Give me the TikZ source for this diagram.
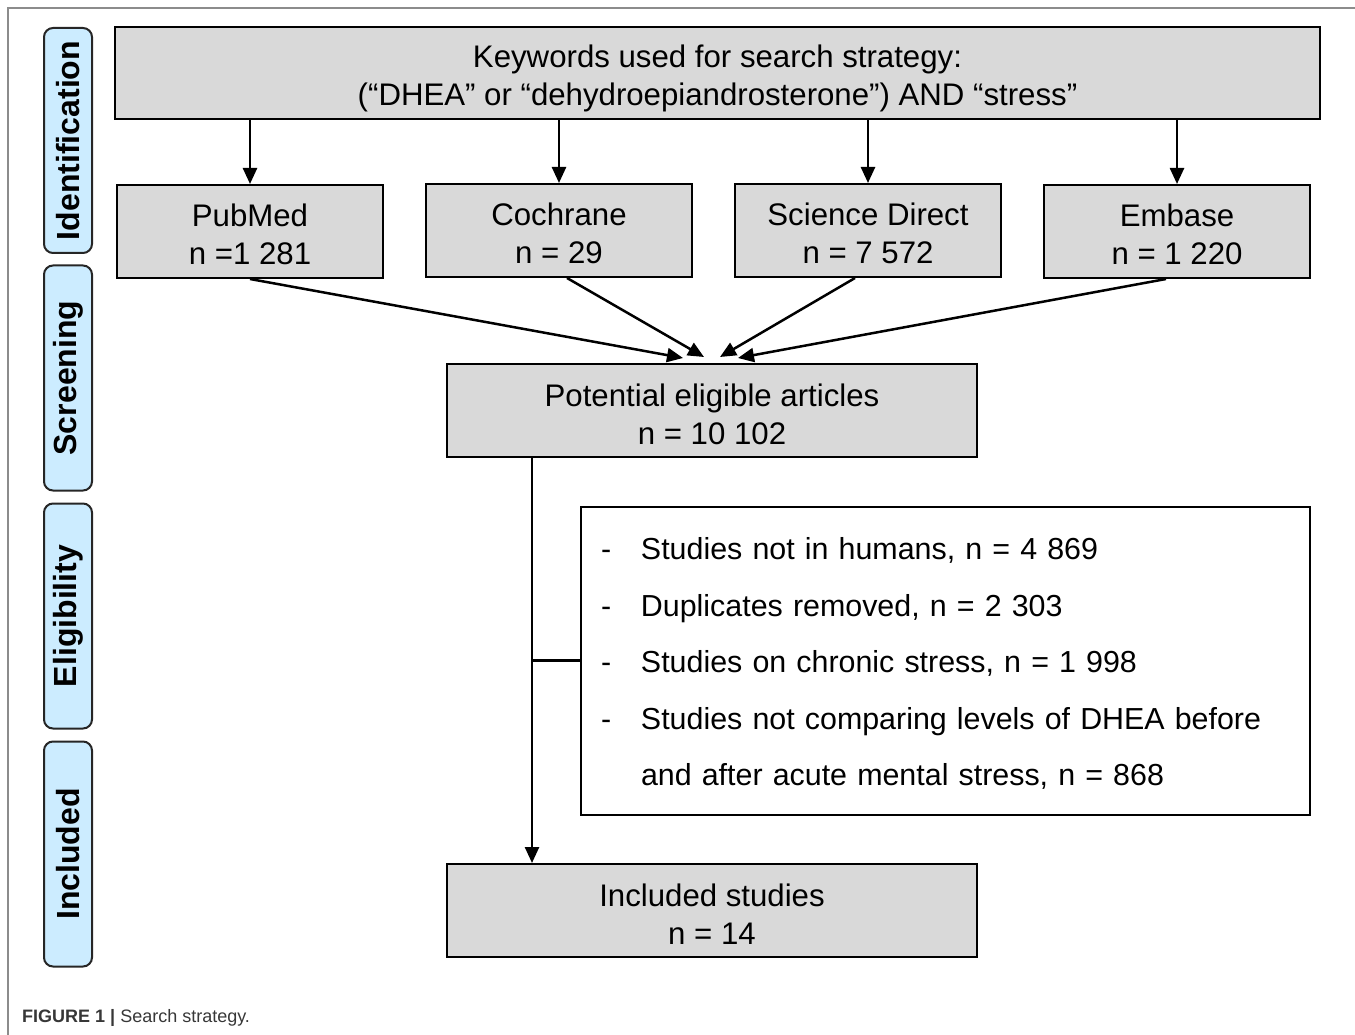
\documentclass[tikz,border=0pt]{standalone}
\usepackage{fontspec}
\setmainfont{Liberation Sans}
\usetikzlibrary{arrows.meta,calc}
\definecolor{boxgray}{RGB}{217,217,217}
\definecolor{sideblue}{RGB}{204,236,255}
\definecolor{framegray}{RGB}{140,140,140}
\definecolor{captiongray}{RGB}{55,55,55}
\begin{document}
\begin{tikzpicture}[x=1pt,y=-1pt,
  graybox/.style={draw=black,line width=2pt,fill=boxgray,inner sep=0pt},
  boxtext/.style={align=center,inner sep=0pt,font=\fontsize{31.2}{38}\selectfont},
  sidebox/.style={draw=black!85,line width=2pt,fill=sideblue,rounded corners=9pt,rotate=90,
    minimum width=225pt,minimum height=48pt,inner sep=0pt,font=\fontsize{32}{36}\selectfont\bfseries},
  conn/.style={line width=2.5pt,black},
  arr/.style={conn,-{Triangle[length=16pt,width=14pt]}}]
\useasboundingbox (0,0) rectangle (1355,1035);
% frame
\draw[framegray,line width=1.5pt] (8,1035) -- (8,8) -- (1355,8);
% side labels
\node[sidebox] (sid) at (68,140.5) {Identification};
\node[sidebox] (sscr) at (68,378) {Screening};
\node[sidebox] (selig) at (68,616) {Eligibility};
\node[sidebox] (sinc) at (68,854) {Included};
% keywords
\node[graybox,minimum width=1205pt,minimum height=92pt,
  label={[boxtext,yshift=-5pt]center:{Keywords used for search strategy:\\(“DHEA” or “dehydroepiandrosterone”) AND “stress”}}]
  (kw) at (717.5,73) {};
% sources
\node[graybox,minimum width=266pt,minimum height=93pt,
  label={[boxtext,yshift=-3pt]center:{PubMed\\n =1 281}}] (pub) at (250,231.5) {};
\node[graybox,minimum width=266pt,minimum height=93pt,
  label={[boxtext,yshift=-3pt]center:{Cochrane\\n = 29}}] (coch) at (559,230.5) {};
\node[graybox,minimum width=266pt,minimum height=93pt,
  label={[boxtext,yshift=-3pt]center:{Science Direct\\n = 7 572}}] (sci) at (868,230.5) {};
\node[graybox,minimum width=266pt,minimum height=93pt,
  label={[boxtext,yshift=-3pt]center:{Embase\\n = 1 220}}] (emb) at (1177,231.5) {};
% arrows from keywords
\draw[arr] (kw.south -| pub.north) -- (pub.north);
\draw[arr] (kw.south -| coch.north) -- (coch.north);
\draw[arr] (kw.south -| sci.north) -- (sci.north);
\draw[arr] (kw.south -| emb.north) -- (emb.north);
% potential
\node[graybox,minimum width=530pt,minimum height=93pt,
  label={[boxtext,yshift=-4pt]center:{Potential eligible articles\\n = 10 102}}] (pot) at (712,410.5) {};
\coordinate (t1) at ($(pot.north)+(-29,-5)$);
\coordinate (t2) at ($(pot.north)+(-8,-6)$);
\coordinate (t3) at ($(pot.north)+(8,-6)$);
\coordinate (t4) at ($(pot.north)+(26,-5)$);
\draw[arr] (pub.south) -- (t1);
\draw[arr] ($(coch.south)+(8,0)$) -- (t2);
\draw[arr] ($(sci.south)+(-13,0)$) -- (t3);
\draw[arr] ($(emb.south)+(-11,0)$) -- (t4);
% exclusion box
\node[draw=black,line width=2pt,fill=white,minimum width=729pt,minimum height=308pt,inner sep=0pt,
  label={[inner sep=0pt,text width=689pt,align=left,font=\fontsize{30.4}{56.5}\selectfont,yshift=-3pt]center:
  {\makebox[40pt][l]{-}Studies not in humans, n = 4 869\\
   \makebox[40pt][l]{-}Duplicates removed, n = 2 303\\
   \makebox[40pt][l]{-}Studies on chronic stress, n = 1 998\\
   \makebox[40pt][l]{-}Studies not comparing levels of DHEA before\\
   \makebox[40pt][l]{}and after acute mental stress, n = 868}}] (exc) at (945.5,660.5) {};
% included
\node[graybox,minimum width=530pt,minimum height=93pt,
  label={[boxtext,yshift=-4pt]center:{Included studies\\n = 14}}] (inc) at (712,910.5) {};
\coordinate (vtop) at ($(pot.south west)+(86,0)$);
\coordinate (vbot) at ($(inc.north west)+(86,0)$);
\draw[arr] (vtop) -- (vbot);
\draw[conn] (vtop |- exc.west) -- (exc.west);
% caption
\node[anchor=west,inner sep=0pt,text=captiongray,font=\fontsize{18}{22}\selectfont] (cap) at (22,1018)
  {\textbf{FIGURE 1 |} Search strategy.};
\end{tikzpicture}
\end{document}
